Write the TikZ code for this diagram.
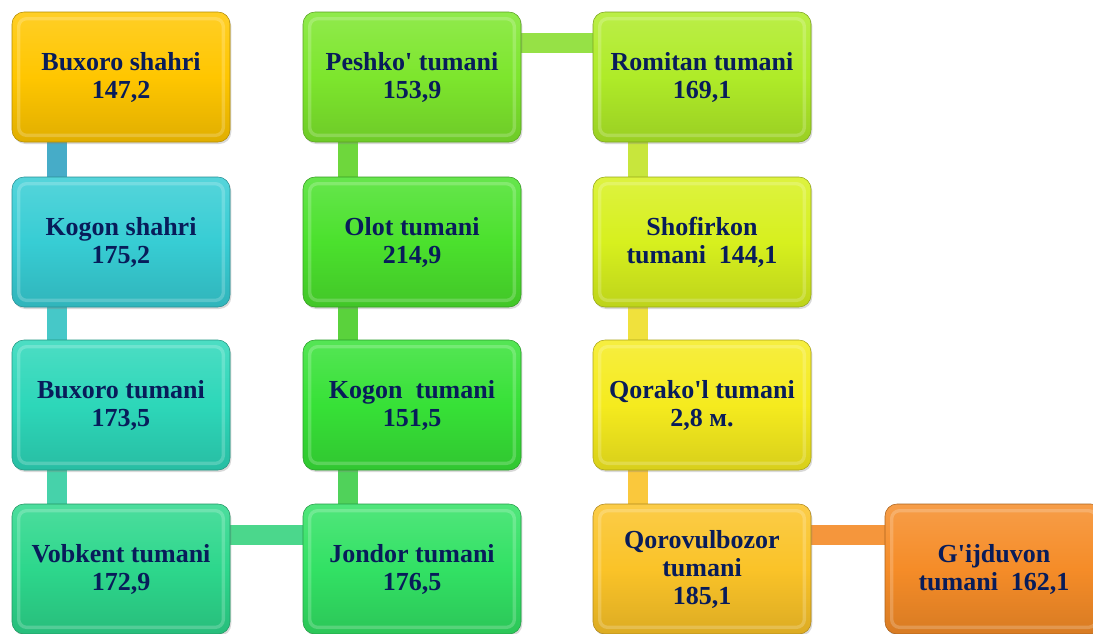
\documentclass[tikz,border=0pt]{standalone}
\usepackage{fontspec}
\setmainfont{Liberation Serif}
\usetikzlibrary{shadows,backgrounds}
\newcommand\ap{\textquotesingle}
% box colours
\definecolor{txt}{RGB}{8,28,90}
\definecolor{cA}{RGB}{255,198,0}
\definecolor{cB}{RGB}{55,205,212}
\definecolor{cC}{RGB}{45,215,185}
\definecolor{cD}{RGB}{45,215,140}
\definecolor{cE}{RGB}{50,225,100}
\definecolor{cF}{RGB}{55,225,55}
\definecolor{cG}{RGB}{75,225,45}
\definecolor{cH}{RGB}{125,230,45}
\definecolor{cI}{RGB}{175,235,40}
\definecolor{cJ}{RGB}{215,240,30}
\definecolor{cK}{RGB}{245,235,30}
\definecolor{cL}{RGB}{250,195,40}
\definecolor{cM}{RGB}{245,140,40}
% link colours
\definecolor{lA}{RGB}{70,172,200}
\definecolor{lB}{RGB}{70,200,200}
\definecolor{lC}{RGB}{70,210,170}
\definecolor{lD}{RGB}{75,215,140}
\definecolor{lE}{RGB}{80,210,90}
\definecolor{lF}{RGB}{90,210,60}
\definecolor{lG}{RGB}{110,215,60}
\definecolor{lH}{RGB}{150,225,70}
\definecolor{lI}{RGB}{200,230,60}
\definecolor{lJ}{RGB}{240,225,60}
\definecolor{lK}{RGB}{250,200,60}
\definecolor{lL}{RGB}{245,150,60}

\begin{document}
\begin{tikzpicture}[x=0.75pt, y=-0.75pt,
    region/.style={draw=#1!70!black, line width=0.4pt, rounded corners=9pt,
        minimum width=163.5pt, minimum height=97.5pt, inner sep=2pt,
        top color=#1!85!white, bottom color=#1!88!black, middle color=#1,
        text=txt, align=center, font=\bfseries\fontsize{19.5}{21}\selectfont,
        drop shadow={shadow xshift=1pt, shadow yshift=-1.5pt, opacity=0.3},
        path picture={\draw[white, opacity=0.2, line width=2.5pt, rounded corners=6pt]
            ([shift={(5pt,-5pt)}]path picture bounding box.north west) rectangle
            ([shift={(-5pt,5pt)}]path picture bounding box.south east);}},
    link/.style={draw=#1, line width=15pt}]
    \useasboundingbox (0,0) rectangle (1093,633);

    % first column, going down
    \node[region=cA] (buxShahri) at (121,77)  {Buxoro shahri\\147,2};
    \node[region=cB] (kogShahri) at (121,242) {Kogon shahri\\175,2};
    \node[region=cC] (buxTuman)  at (121,405) {Buxoro tumani\\173,5};
    \node[region=cD] (vobkent)   at (121,569) {Vobkent tumani\\172,9};
    % second column, going up
    \node[region=cE] (jondor)    at (412,569) {Jondor tumani\\176,5};
    \node[region=cF] (kogTuman)  at (412,405) {Kogon~~tumani\\151,5};
    \node[region=cG] (olot)      at (412,242) {Olot tumani\\214,9};
    \node[region=cH] (peshko)    at (412,77)  {Peshko\ap{} tumani\\153,9};
    % third column, going down
    \node[region=cI] (romitan)   at (702,77)  {Romitan tumani\\169,1};
    \node[region=cJ] (shofirkon) at (702,242) {Shofirkon\\tumani~~144,1};
    \node[region=cK] (qorakol)   at (702,405) {Qorako\ap{}l tumani\\2,8 м.};
    \node[region=cL] (qorovul)   at (702,569) {Qorovulbozor\\tumani\\185,1};
    \node[region=cM] (gijduvon)  at (994,569) {G\ap{}ijduvon\\tumani~~162,1};

    \begin{scope}[on background layer]
        \draw[link=lA] ([xshift=33.75pt]buxShahri.south west) -- ([xshift=33.75pt]kogShahri.north west);
        \draw[link=lB] ([xshift=33.75pt]kogShahri.south west) -- ([xshift=33.75pt]buxTuman.north west);
        \draw[link=lC] ([xshift=33.75pt]buxTuman.south west) -- ([xshift=33.75pt]vobkent.north west);
        \draw[link=lD] ([yshift=-23.25pt]vobkent.north east) -- ([yshift=-23.25pt]jondor.north west);
        \draw[link=lE] ([xshift=33.75pt]jondor.north west) -- ([xshift=33.75pt]kogTuman.south west);
        \draw[link=lF] ([xshift=33.75pt]kogTuman.north west) -- ([xshift=33.75pt]olot.south west);
        \draw[link=lG] ([xshift=33.75pt]olot.north west) -- ([xshift=33.75pt]peshko.south west);
        \draw[link=lH] ([yshift=-23.25pt]peshko.north east) -- ([yshift=-23.25pt]romitan.north west);
        \draw[link=lI] ([xshift=33.75pt]romitan.south west) -- ([xshift=33.75pt]shofirkon.north west);
        \draw[link=lJ] ([xshift=33.75pt]shofirkon.south west) -- ([xshift=33.75pt]qorakol.north west);
        \draw[link=lK] ([xshift=33.75pt]qorakol.south west) -- ([xshift=33.75pt]qorovul.north west);
        \draw[link=lL] ([yshift=-23.25pt]qorovul.north east) -- ([yshift=-23.25pt]gijduvon.north west);
    \end{scope}
\end{tikzpicture}
\end{document}
